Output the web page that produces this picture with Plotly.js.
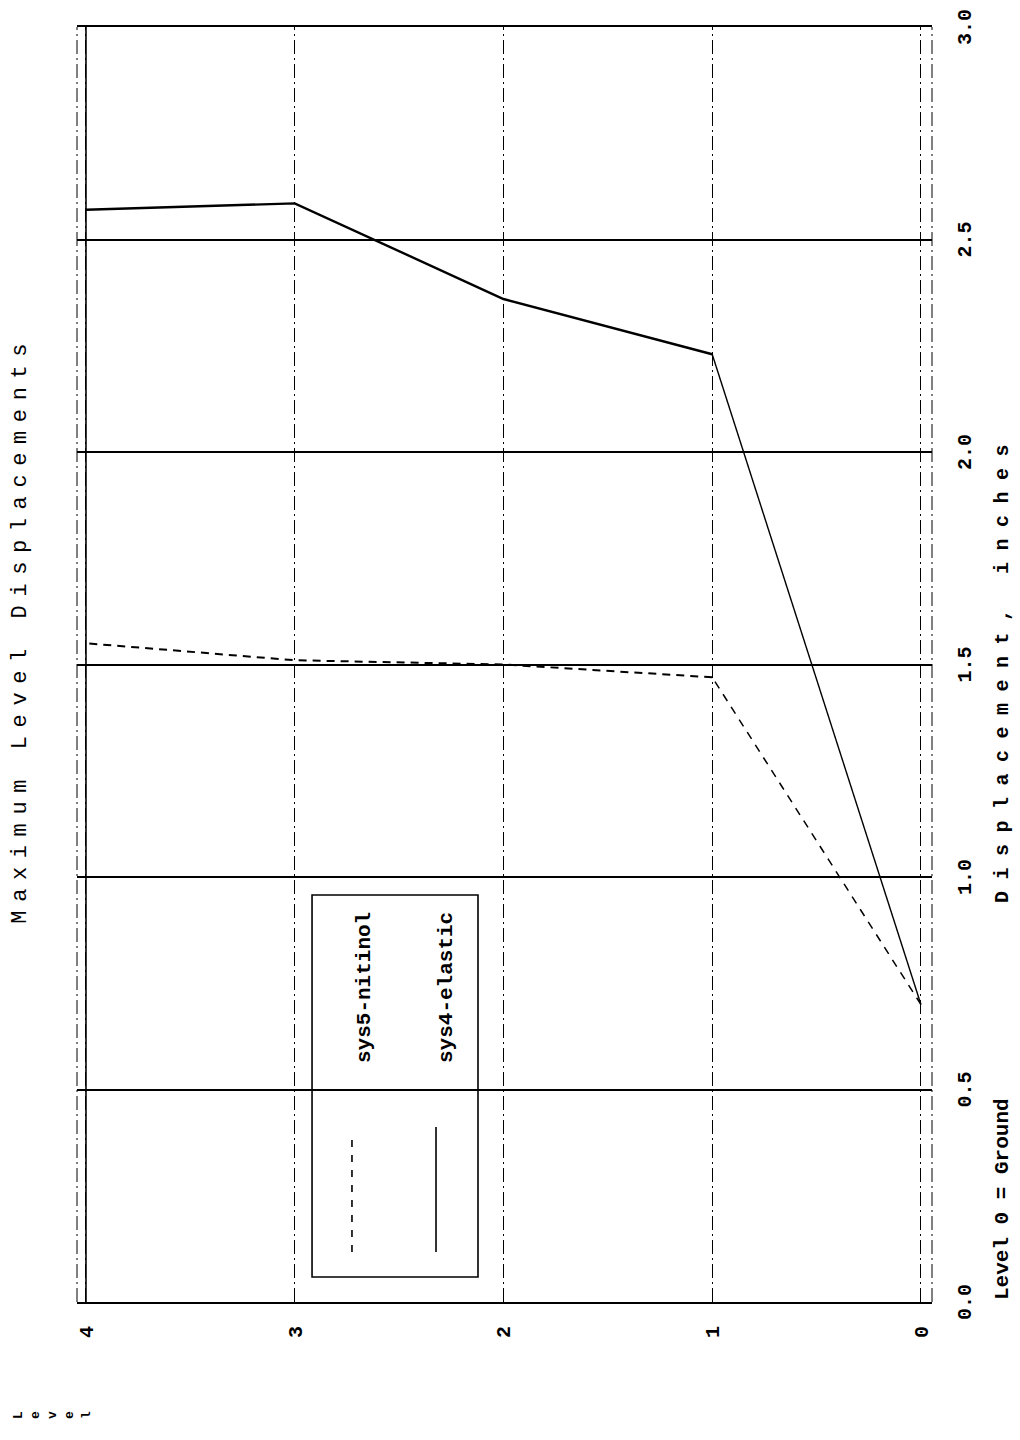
<!DOCTYPE html>
<html>
<head>
<meta charset="utf-8">
<script src="https://cdn.plot.ly/plotly-3.0.1.min.js"></script>
<style>
  html, body { margin: 0; padding: 0; background: #fff; overflow: hidden; width: 1020px; height: 1440px; }
  #wrap { position: absolute; left: 0; top: 0; width: 1440px; height: 1020px;
          transform-origin: 0 0; transform: translate(0px, 1440px) rotate(-90deg); }
  .gtitle { letter-spacing: 8.6px; }
  .annotation[data-index="0"] text { letter-spacing: 11.5px; }
</style>
</head>
<body>
<div id="wrap"><div id="chart"></div></div>
<script>
// ---- data ----
const levels = [0, 1, 2, 3, 4];
const sys5Nitinol = [0.70, 1.47, 1.50, 1.51, 1.55];
const sys4Elastic = [0.70, 2.23, 2.36, 2.585, 2.57];
const dispTickVals = [0, 0.5, 1.0, 1.5, 2.0, 2.5, 3.0];
const dispTickText = ['0.0', '0.5', '1.0', '1.5', '2.0', '2.5', '3.0'];
const levelTickText = ['0', '1', '2', '3', '4'];
const seriesNames = ['sys5-nitinol', 'sys4-elastic'];
const titleText = 'Maximum Level Displacements';
const xTitleText = 'Displacement, inches';
const noteText = 'Level 0 = Ground';
const levelLabel = 'L<br>e<br>v<br>e<br>l';

const MONO = 'Liberation Mono, Courier New, monospace';
const BLACK = '#000000';
const DASHDOT = '14px,4px,2px,4px';

// upper part (levels 1..4) drawn heavier, ground segment (levels 0..1) lighter, as in the original
const traces = [
  { x: sys5Nitinol.slice(1), y: levels.slice(1), name: seriesNames[0], type: 'scatter', mode: 'lines',
    line: { color: BLACK, width: 2, dash: '8px,6px' }, hoverinfo: 'skip' },
  { x: sys5Nitinol.slice(0, 2), y: levels.slice(0, 2), name: seriesNames[0], type: 'scatter', mode: 'lines',
    line: { color: BLACK, width: 1.5, dash: '8px,7px' }, hoverinfo: 'skip' },
  { x: sys4Elastic.slice(1), y: levels.slice(1), name: seriesNames[1], type: 'scatter', mode: 'lines',
    line: { color: BLACK, width: 2.4 }, hoverinfo: 'skip' },
  { x: sys4Elastic.slice(0, 2), y: levels.slice(0, 2), name: seriesNames[1], type: 'scatter', mode: 'lines',
    line: { color: BLACK, width: 1.4 }, hoverinfo: 'skip' }
];

const layout = {
  width: 1440, height: 1020,
  margin: { l: 138, r: 27, t: 77, b: 88, pad: 0 },
  paper_bgcolor: '#ffffff', plot_bgcolor: '#ffffff',
  showlegend: false,
  title: { text: titleText, x: 0.563, xanchor: 'center', xref: 'container',
           y: 0.982, yanchor: 'middle', yref: 'container',
           font: { family: MONO, size: 22, color: BLACK } },
  xaxis: {
    range: [0, 3], tickmode: 'array', tickvals: dispTickVals, ticktext: dispTickText,
    showgrid: true, gridcolor: BLACK, gridwidth: 2, zeroline: false, showline: false,
    ticks: '', ticklabelstandoff: 18,
    tickfont: { family: MONO, size: 20, color: BLACK, weight: 'bold' }
  },
  yaxis: {
    range: [-0.053, 4.043], tickmode: 'array', tickvals: levels, ticktext: levelTickText,
    showgrid: true, gridcolor: BLACK, gridwidth: 1, griddash: DASHDOT,
    zeroline: false, showline: true, mirror: true, linewidth: 2, linecolor: BLACK,
    ticks: '', ticklabelstandoff: 18,
    tickfont: { family: MONO, size: 20, color: BLACK, weight: 'bold' }
  },
  annotations: [
    { text: xTitleText, xref: 'paper', yref: 'paper', x: 0.497, y: -0.083,
      xanchor: 'center', yanchor: 'middle', showarrow: false,
      font: { family: MONO, size: 20, color: BLACK, weight: 'bold' } },
    { text: noteText, xref: 'paper', yref: 'paper', x: 0.0, y: -0.083,
      xanchor: 'left', yanchor: 'middle', showarrow: false,
      font: { family: MONO, size: 21, color: BLACK, weight: 'bold' } },
    { text: seriesNames[0], xref: 'paper', yref: 'paper', x: 0.1859, y: 0.6643,
      xanchor: 'left', yanchor: 'middle', showarrow: false,
      font: { family: MONO, size: 21, color: BLACK, weight: 'bold' } },
    { text: seriesNames[1], xref: 'paper', yref: 'paper', x: 0.1859, y: 0.5673,
      xanchor: 'left', yanchor: 'middle', showarrow: false,
      font: { family: MONO, size: 21, color: BLACK, weight: 'bold' } },
    { text: levelLabel, xref: 'paper', yref: 'paper', x: -0.0886, y: 1.029,
      xanchor: 'center', yanchor: 'middle', showarrow: false,
      font: { family: MONO, size: 13, color: BLACK, weight: 'bold' } }
  ],
  shapes: [
    // frame edges (dash-dot)
    { type: 'line', xref: 'paper', yref: 'paper', x0: 0, x1: 1, y0: 1, y1: 1,
      line: { color: BLACK, width: 1, dash: DASHDOT } },
    { type: 'line', xref: 'paper', yref: 'paper', x0: 0, x1: 1, y0: 0, y1: 0,
      line: { color: BLACK, width: 1, dash: DASHDOT } },
    // top level line drawn solid
    { type: 'line', xref: 'paper', yref: 'y', x0: 0, x1: 1,
      y0: levels[levels.length - 1], y1: levels[levels.length - 1],
      line: { color: BLACK, width: 1.6 } },
    // legend box (transparent: grid shows through)
    { type: 'rect', xref: 'paper', yref: 'paper', x0: 0.0196, x1: 0.3192, y0: 0.5310, y1: 0.7251,
      line: { color: BLACK, width: 1.6 }, fillcolor: 'rgba(0,0,0,0)', layer: 'above' },
    { type: 'line', xref: 'paper', yref: 'paper', x0: 0.0392, x1: 0.131, y0: 0.6784, y1: 0.6784,
      line: { color: BLACK, width: 1.6, dash: '7px,8px' } },
    { type: 'line', xref: 'paper', yref: 'paper', x0: 0.0392, x1: 0.1373, y0: 0.5801, y1: 0.5801,
      line: { color: BLACK, width: 1.6 } }
  ]
};

Plotly.newPlot('chart', traces, layout, { staticPlot: true, displayModeBar: false });
</script>
</body>
</html>
